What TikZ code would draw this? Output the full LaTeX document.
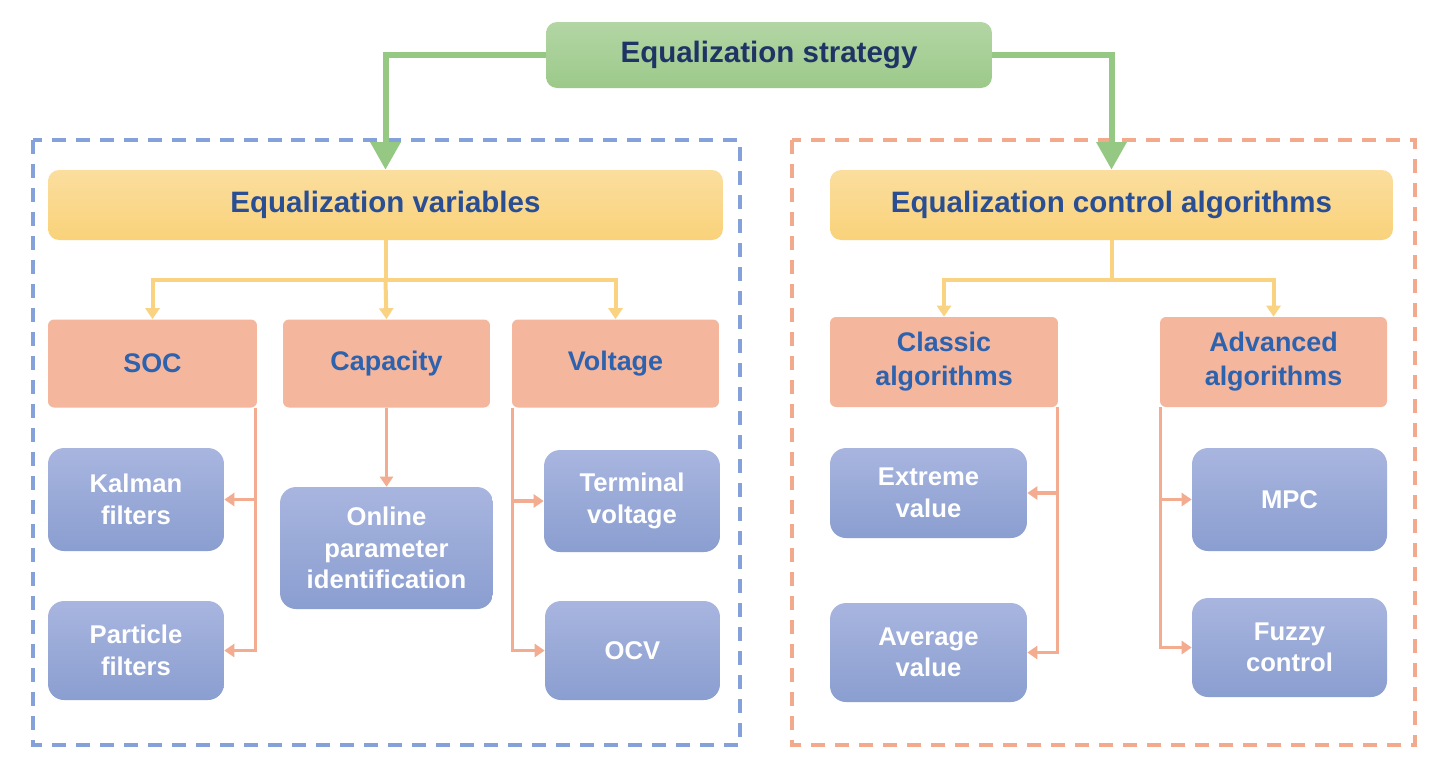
\documentclass[tikz,border=0pt]{standalone}
\usepackage{fontspec}
\setmainfont{Liberation Sans}
\usepackage{tikz}
\usetikzlibrary{arrows.meta, calc, positioning}
\usepackage{xcolor}
\definecolor{stratgreentop}{HTML}{B3D6A4}
\definecolor{stratgreenbot}{HTML}{9CC98A}
\definecolor{arrowgreen}{HTML}{94C883}
\definecolor{navytext}{HTML}{1F3465}
\definecolor{yellowtop}{HTML}{FBDE9E}
\definecolor{yellowbot}{HTML}{F9D27A}
\definecolor{lineyellow}{HTML}{F9D382}
\definecolor{headtext}{HTML}{2A4E94}
\definecolor{salmon}{HTML}{F4B69D}
\definecolor{lineorange}{HTML}{F3AC8F}
\definecolor{midtext}{HTML}{2C62AE}
\definecolor{leaftop}{HTML}{A8B5DF}
\definecolor{leafbot}{HTML}{8A9ED0}
\definecolor{frameblue}{HTML}{84A2D9}
\definecolor{frameorange}{HTML}{F2A98C}

\begin{document}
\begin{tikzpicture}[x=0.02cm, y=-0.02cm]
        \tikzstyle{topbox}=[rounded corners=0.22cm, top color=stratgreentop, bottom color=stratgreenbot, text=navytext, font=\fontsize{16.8}{20}\selectfont\bfseries, minimum width=8.92cm, minimum height=1.32cm]
        \tikzstyle{headbox}=[rounded corners=0.22cm, top color=yellowtop, bottom color=yellowbot, text=headtext, font=\fontsize{16.8}{20}\selectfont\bfseries, minimum height=1.4cm]
        \tikzstyle{midbox}=[rounded corners=0.12cm, fill=salmon, text=midtext, font=\fontsize{15.3}{19.3}\selectfont\bfseries, align=center, minimum height=1.76cm]
        \tikzstyle{leaf}=[rounded corners=0.32cm, top color=leaftop, bottom color=leafbot, text=white, font=\fontsize{14.6}{17.9}\selectfont\bfseries, align=center]
        \tikzstyle{garrow}=[-{Triangle[width=0.58cm, length=0.55cm]}, line width=0.12cm, draw=arrowgreen]
        \tikzstyle{yarrow}=[-{Triangle[width=0.28cm, length=0.22cm]}, line width=0.08cm, draw=lineyellow]
        \tikzstyle{oarrow}=[-{Triangle[width=0.26cm, length=0.2cm]}, line width=0.07cm, draw=lineorange]
        \tikzstyle{groupframe}=[dash pattern=on 0.28cm off 0.2cm, line width=0.08cm]

        \useasboundingbox[fill=white] (0,0) rectangle (1442,769);

        % dashed groups
        \draw[groupframe, draw=frameblue] (33,140) rectangle (740,745);
        \draw[groupframe, draw=frameorange] (792,140) rectangle (1415,745);

        \node[topbox] (strategy) at (769,55) {Equalization strategy};
        \node[headbox, minimum width=13.5cm] (vars) at (385.5,205) {Equalization variables};
        \node[headbox, minimum width=11.26cm] (ctrl) at (1111.5,205) {Equalization control algorithms};

        \node[midbox, minimum width=4.18cm] (soc) at (152.5,363.5) {SOC};
        \node[midbox, minimum width=4.14cm] (capacity) at (386.5,363.5) {Capacity};
        \node[midbox, minimum width=4.14cm] (voltage) at (615.5,363.5) {Voltage};
        \node[midbox, minimum width=4.56cm, minimum height=1.8cm] (classic) at (944,362) {Classic\\algorithms};
        \node[midbox, minimum width=4.54cm, minimum height=1.8cm] (advanced) at (1273.5,362) {Advanced\\algorithms};

        \node[leaf, minimum width=3.52cm, minimum height=2.06cm] (kalman) at (136,499.5) {Kalman\\filters};
        \node[leaf, minimum width=3.52cm, minimum height=1.98cm] (particle) at (136,650.5) {Particle\\filters};
        \node[leaf, minimum width=4.26cm, minimum height=2.44cm] (online) at (386.5,548) {Online\\parameter\\identification};
        \node[leaf, minimum width=3.52cm, minimum height=2.04cm] (terminal) at (632,501) {Terminal\\voltage};
        \node[leaf, minimum width=3.5cm, minimum height=1.98cm] (ocv) at (632.5,650.5) {OCV};
        \node[leaf, minimum width=3.94cm, minimum height=1.8cm] (extreme) at (928.5,493) {Extreme\\value};
        \node[leaf, minimum width=3.94cm, minimum height=1.98cm] (average) at (928.5,652.5) {Average\\value};
        \node[leaf, minimum width=3.9cm, minimum height=2.06cm] (mpc) at (1289.5,499.5) {MPC};
        \node[leaf, minimum width=3.9cm, minimum height=1.98cm] (fuzzy) at (1289.5,647.5) {Fuzzy\\control};

        % top level
        \draw[garrow] (strategy.west) -| (vars.north);
        \draw[garrow] (strategy.east) -| (ctrl.north);

        % second level
        \coordinate (vsplit) at ($(vars.south)+(0,40)$);
        \coordinate (csplit) at ($(ctrl.south)+(0,40)$);
        \draw[yarrow, -] (vars.south) -- (vsplit);
        \draw[yarrow] (vsplit) -| (soc.north);
        \draw[yarrow] (vsplit) -- (capacity.north);
        \draw[yarrow] (vsplit) -| (voltage.north);
        \draw[yarrow, -] (ctrl.south) -- (csplit);
        \draw[yarrow] (csplit) -| (classic.north);
        \draw[yarrow] (csplit) -| (advanced.north);

        % third level
        \draw[oarrow] ($(soc.south east)+(-2,0)$) |- (kalman.east);
        \draw[oarrow] ($(soc.south east)+(-2,0)$) |- (particle.east);
        \draw[oarrow] (capacity.south) -- (online.north);
        \draw[oarrow] ($(voltage.south west)+(1,0)$) |- (terminal.west);
        \draw[oarrow] ($(voltage.south west)+(1,0)$) |- (ocv.west);
        \draw[oarrow] ($(classic.south east)+(-1,0)$) |- (extreme.east);
        \draw[oarrow] ($(classic.south east)+(-1,0)$) |- (average.east);
        \draw[oarrow] ($(advanced.south west)+(1,0)$) |- (mpc.west);
        \draw[oarrow] ($(advanced.south west)+(1,0)$) |- (fuzzy.west);
\end{tikzpicture}
\end{document}
